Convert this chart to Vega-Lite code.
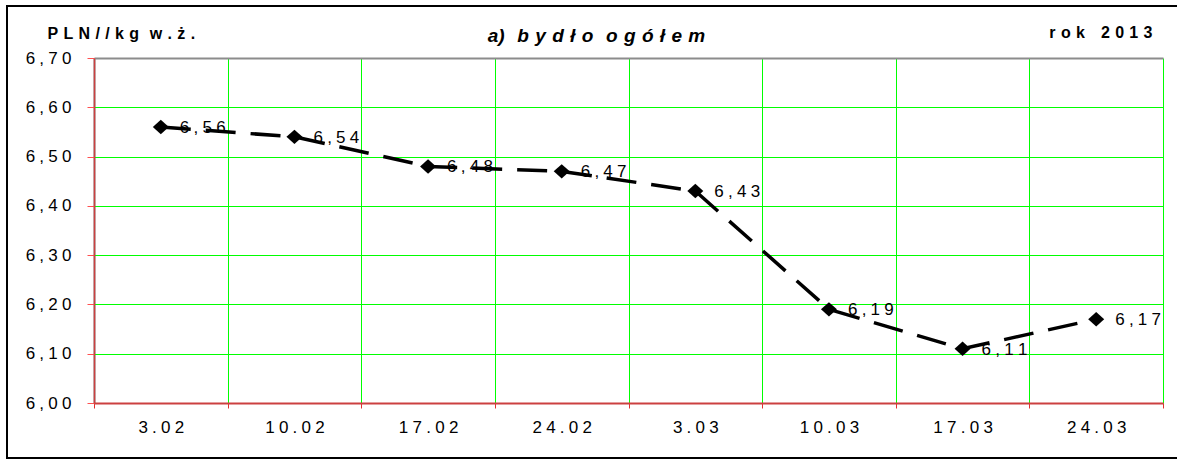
{
  "$schema": "https://vega.github.io/schema/vega-lite/v6.json",
  "width": 1069,
  "height": 345,
  "autosize": "none",
  "padding": {"left": 94, "top": 58, "right": 14, "bottom": 56},
  "background": "#ffffff",
  "config": {
    "locale": {"number": {"decimal": "\u2005,", "thousands": " ", "grouping": [3], "currency": ["", " zł"], "numerals": ["\u20050", "\u20051", "\u20052", "\u20053", "\u20054", "\u20055", "\u20056", "\u20057", "\u20058", "\u20059"]}},
    "font": "Liberation Sans",
    "view": {"stroke": null}
  },
  "title": {
    "text": "a)\u2004\u2004b\u2004y\u2004d\u2004ł\u2004o\u2004\u2004o\u2004g\u2004ó\u2004ł\u2004e\u2004m",
    "font": "Liberation Sans",
    "fontSize": 19,
    "fontWeight": "bold",
    "fontStyle": "italic",
    "color": "#000000",
    "anchor": "middle",
    "frame": "group",
    "dx": -32,
    "baseline": "alphabetic",
    "offset": -56
  },
  "data": {
    "values": [
      {"date": "3.02", "price": 6.56},
      {"date": "10.02", "price": 6.54},
      {"date": "17.02", "price": 6.48},
      {"date": "24.02", "price": 6.47},
      {"date": "3.03", "price": 6.43},
      {"date": "10.03", "price": 6.19},
      {"date": "17.03", "price": 6.11},
      {"date": "24.03", "price": 6.17}
    ]
  },
  "encoding": {
    "x": {
      "field": "date",
      "type": "nominal",
      "sort": null,
      "scale": {"paddingInner": 0, "paddingOuter": 0},
      "axis": {
        "title": "r\u2004o\u2004k\u2004\u2004\u20042\u20040\u20041\u20043",
        "titleFont": "Liberation Sans",
        "titleFontSize": 16,
        "titleFontWeight": "bold",
        "titleColor": "#000000",
        "titleAnchor": null,
        "titleAlign": "right",
        "titleBaseline": "alphabetic",
        "titleX": 1058,
        "titleY": -366,
        "labelAngle": 0,
        "labelFont": "Liberation Sans",
        "labelFontSize": 17,
        "labelColor": "#000000",
        "labelPadding": 11,
        "labelExpr": "join(split(datum.label, ''), '\u2005')",
        "tickBand": "extent",
        "tickColor": "#e03030",
        "tickSize": 5,
        "domainColor": "#cc4040",
        "domainWidth": 2,
        "grid": true,
        "gridColor": {"condition": {"test": "datum.extra || datum.index < 0", "value": "#8c8c8c"}, "value": "#00ff00"},
        "gridWidth": {"condition": {"test": "datum.extra || datum.index < 0", "value": 2}, "value": 1}
      }
    },
    "y": {
      "field": "price",
      "type": "quantitative",
      "scale": {"domain": [6.0, 6.7], "zero": false, "nice": false},
      "axis": {
        "values": [6.0, 6.1, 6.2, 6.3, 6.4, 6.5, 6.6, 6.7],
        "format": ".2f",
        "title": "P\u2004L\u2004N\u2004/\u2004/\u2004k\u2004g\u2004\u2004w\u2004.\u2004ż\u2004.",
        "titleFont": "Liberation Sans",
        "titleFontSize": 16,
        "titleFontWeight": "bold",
        "titleColor": "#000000",
        "titleAngle": 0,
        "titleAnchor": null,
        "titleAlign": "left",
        "titleBaseline": "alphabetic",
        "titleX": -47,
        "titleY": -20,
        "labelFont": "Liberation Sans",
        "labelFontSize": 17,
        "labelColor": "#000000",
        "labelPadding": 16,
        "tickColor": "#ff5050",
        "tickSize": 7,
        "domainColor": "#cc4040",
        "domainWidth": 1.5,
        "grid": true,
        "gridColor": {"condition": {"test": "datum.value >= 6.69", "value": "#8c8c8c"}, "value": "#00ff00"},
        "gridWidth": {"condition": {"test": "datum.value >= 6.69", "value": 2}, "value": 1}
      }
    }
  },
  "layer": [
    {
      "data": {"values": [{"frame": 1}]},
      "mark": {"type": "rect", "fill": null, "stroke": "#000000", "strokeWidth": 2, "clip": false},
      "encoding": {
        "x": {"value": -87},
        "x2": {"value": 1090},
        "y": {"value": -52},
        "y2": {"value": 400}
      }
    },
    {
      "mark": {"type": "line", "color": "#000000", "strokeWidth": 3.5, "strokeDash": [30, 15]}
    },
    {
      "mark": {"type": "point", "shape": "M-1,0L0,-0.9L1,0L0,0.9Z", "size": 256, "filled": true, "color": "#000000", "opacity": 1}
    },
    {
      "mark": {"type": "text", "align": "left", "baseline": "middle", "dx": 19, "dy": 1, "fontSize": 17, "font": "Liberation Sans", "color": "#000000"},
      "encoding": {"text": {"field": "price", "type": "quantitative", "format": ".2f"}}
    }
  ]
}
